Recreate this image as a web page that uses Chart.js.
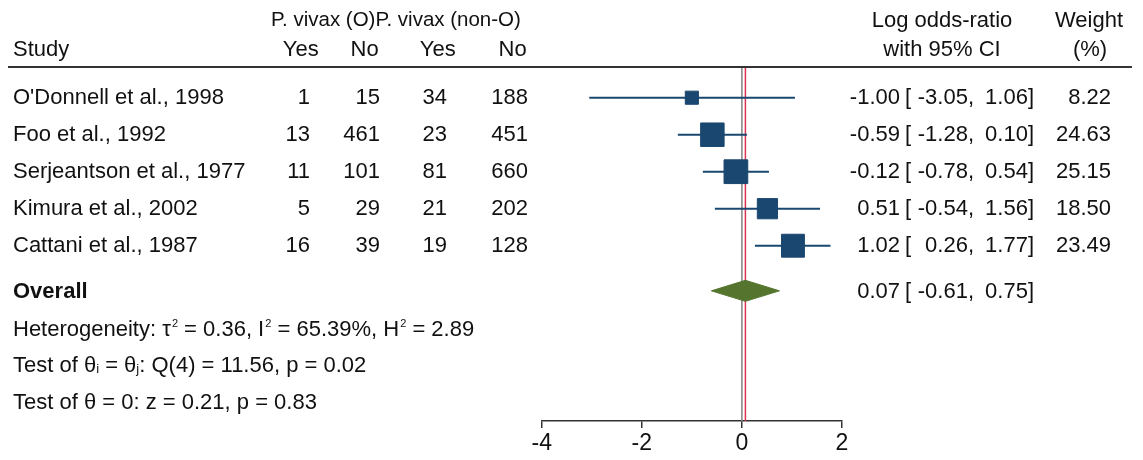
<!DOCTYPE html>
<html>
<head>
<meta charset="utf-8">
<script src="https://cdn.jsdelivr.net/npm/chart.js@4.4.1/dist/chart.umd.min.js"></script>
<style>
  html, body { margin: 0; padding: 0; background: #fff; }
  #wrap { width: 1143px; height: 460px; position: relative; }
</style>
</head>
<body>
<div id="wrap"><canvas id="forest" width="1143" height="460"></canvas></div>
<script>
// ---- study data ----
const studies = ["O'Donnell et al., 1998", "Foo et al., 1992", "Serjeantson et al., 1977", "Kimura et al., 2002", "Cattani et al., 1987"];
const vivaxOYes = [1, 13, 11, 5, 16];
const vivaxONo = [15, 461, 101, 29, 39];
const vivaxNonOYes = [34, 23, 81, 21, 19];
const vivaxNonONo = [188, 451, 660, 202, 128];
const logOR = [-1.00, -0.59, -0.12, 0.51, 1.02];
const ciLow = [-3.05, -1.28, -0.78, -0.54, 0.26];
const ciHigh = [1.06, 0.10, 0.54, 1.56, 1.77];
const weights = [8.22, 24.63, 25.15, 18.50, 23.49];
const overallEst = [0.07, -0.61, 0.75];          // estimate, lower, upper
const heterogeneity = ['0.36', '65.39%', '2.89']; // tau^2, I^2, H^2
const testQ = ['4', '11.56', '0.02'];             // df, Q, p
const testZ = ['0.21', '0.83'];                   // z, p
const xTicks = [-4, -2, 0, 2];

// ---- layout (row positions on the vertical scale) ----
const Y_MIN = 0.17, Y_MAX = 9.738;
const rowPos = [1, 2, 3, 4, 5];
const overallPos = 6.22;
const statPos = [7.22, 8.2, 9.19];
const headPos = [-1.087, -0.29];
const DIAMOND_H = 0.284;

const NAVY = '#1a476f';
const GREEN = '#55752f';
const FS = 22;
const FONT = '"Liberation Sans", Arial, Helvetica, sans-serif';

const datasets = [];
// reference lines: no effect and overall effect
datasets.push({ type: 'line', data: [{ x: 0, y: Y_MIN }, { x: 0, y: Y_MAX }],
  borderColor: '#808080', borderWidth: 1.5, pointRadius: 0, order: 10 });
datasets.push({ type: 'line', data: [{ x: overallEst[0], y: Y_MIN }, { x: overallEst[0], y: Y_MAX }],
  borderColor: '#dc3350', borderWidth: 1.5, pointRadius: 0, order: 9 });
// confidence intervals
studies.forEach((s, i) => {
  datasets.push({ type: 'line', data: [{ x: ciLow[i], y: rowPos[i] }, { x: ciHigh[i], y: rowPos[i] }],
    borderColor: NAVY, borderWidth: 2, pointRadius: 0, order: 2 });
});
// study estimates, square area proportional to weight
const sqRadius = weights.map(w => (4.93 * Math.sqrt(w) - 1) / Math.SQRT2);
datasets.push({ type: 'scatter', data: logOR.map((v, i) => ({ x: v, y: rowPos[i] })),
  pointStyle: 'rect', pointRadius: sqRadius, pointHoverRadius: sqRadius,
  backgroundColor: NAVY, borderColor: NAVY, borderWidth: 1, order: 0 });
// overall diamond
datasets.push({ type: 'line',
  data: [
    { x: overallEst[1], y: overallPos },
    { x: overallEst[0], y: overallPos - DIAMOND_H },
    { x: overallEst[2], y: overallPos },
    { x: overallEst[0], y: overallPos + DIAMOND_H },
    { x: overallEst[1], y: overallPos }
  ],
  fill: 'shape', backgroundColor: GREEN, borderColor: GREEN, borderWidth: 1,
  pointRadius: 0, tension: 0, order: 0 });

const f2 = v => v.toFixed(2);

function drawRuns(ctx, x, yc, parts) {
  const base = yc + 0.358 * FS;
  let cx = x;
  ctx.textAlign = 'left';
  ctx.textBaseline = 'alphabetic';
  parts.forEach(p => {
    if (p.sup) {
      ctx.font = `11px ${FONT}`;
      cx += 1;
      ctx.fillText(p.sup, cx, base - 9);
      cx += ctx.measureText(p.sup).width;
    } else if (p.sub) {
      ctx.font = `13px ${FONT}`;
      ctx.fillText(p.sub, cx, base + 1);
      cx += ctx.measureText(p.sub).width;
    } else {
      ctx.font = `${FS}px ${FONT}`;
      ctx.fillText(p.t, cx, base);
      cx += ctx.measureText(p.t).width;
    }
  });
}

const tablePlugin = {
  id: 'forestTable',
  afterDraw(chart) {
    const ctx = chart.ctx;
    const y = chart.scales.y;
    ctx.save();
    ctx.fillStyle = '#111';
    const put = (s, x, yc, align, bold, size) => {
      ctx.font = `${bold ? 'bold ' : ''}${size || FS}px ${FONT}`;
      ctx.textAlign = align;
      ctx.textBaseline = 'middle';
      ctx.fillText(s, x, yc);
    };
    const h1 = y.getPixelForValue(headPos[0]);
    const h2 = y.getPixelForValue(headPos[1]);

    // count columns: right-aligned values, header centred over the widest value
    const cols = [
      { vals: vivaxOYes, right: 310, head: 'Yes' },
      { vals: vivaxONo, right: 380, head: 'No' },
      { vals: vivaxNonOYes, right: 447, head: 'Yes' },
      { vals: vivaxNonONo, right: 528, head: 'No' }
    ];
    ctx.font = `${FS}px ${FONT}`;
    cols.forEach(c => {
      const w = Math.max(...c.vals.map(v => ctx.measureText(String(v)).width));
      put(c.head, c.right - w / 2 + 3, h2, 'center');
      c.vals.forEach((v, i) => put(String(v), c.right, y.getPixelForValue(rowPos[i]), 'right'));
    });

    // headers
    const GS = 20.5;
    ctx.font = `${GS}px ${FONT}`;
    const gw = ctx.measureText('P. vivax (O)').width;
    put('P. vivax (O)', 271, h1, 'left', false, GS);
    put('P. vivax (non-O)', 271 + gw, h1, 'left', false, GS);
    put('Study', 13, h2, 'left');
    put('Log odds-ratio', 942, h1, 'center');
    put('with 95% CI', 942, h2, 'center');
    put('Weight', 1089, h1, 'center');
    put('(%)', 1090, h2, 'center');
    // header rule
    const ry = y.getPixelForValue(Y_MIN);
    ctx.strokeStyle = '#333';
    ctx.lineWidth = 2;
    ctx.beginPath();
    ctx.moveTo(8, ry);
    ctx.lineTo(1132, ry);
    ctx.stroke();

    const ciText = (est, lo, hi, yc) => {
      put(f2(est), 900, yc, 'right');
      put('[', 905, yc, 'left');
      put(f2(lo) + ',', 974, yc, 'right');
      put(f2(hi) + ']', 1034, yc, 'right');
    };
    // study rows
    studies.forEach((s, i) => {
      const yc = y.getPixelForValue(rowPos[i]);
      put(s, 13, yc, 'left');
      ciText(logOR[i], ciLow[i], ciHigh[i], yc);
      put(f2(weights[i]), 1111, yc, 'right');
    });
    // overall
    const yo = y.getPixelForValue(overallPos) + 1;
    put('Overall', 13, yo, 'left', true);
    ciText(overallEst[0], overallEst[1], overallEst[2], yo);
    // statistics
    drawRuns(ctx, 13, y.getPixelForValue(statPos[0]), [
      { t: 'Heterogeneity: \u03C4' }, { sup: '2' }, { t: ' = ' + heterogeneity[0] + ', I' }, { sup: '2' },
      { t: ' = ' + heterogeneity[1] + ', H' }, { sup: '2' }, { t: ' = ' + heterogeneity[2] }
    ]);
    drawRuns(ctx, 13, y.getPixelForValue(statPos[1]), [
      { t: 'Test of \u03B8' }, { sub: 'i' }, { t: ' = \u03B8' }, { sub: 'j' },
      { t: ': Q(' + testQ[0] + ') = ' + testQ[1] + ', p = ' + testQ[2] }
    ]);
    drawRuns(ctx, 13, y.getPixelForValue(statPos[2]), [
      { t: 'Test of \u03B8 = 0: z = ' + testZ[0] + ', p = ' + testZ[1] }
    ]);
    ctx.restore();
  }
};

new Chart(document.getElementById('forest'), {
  type: 'scatter',
  data: { datasets },
  options: {
    responsive: false,
    animation: false,
    devicePixelRatio: 1,
    layout: { padding: { left: 541.7, right: 301, top: 67, bottom: 0 } },
    plugins: { legend: { display: false }, tooltip: { enabled: false } },
    scales: {
      x: {
        type: 'linear', position: 'bottom', min: -4, max: 2,
        afterBuildTicks: s => { s.ticks = xTicks.map(v => ({ value: v })); },
        afterFit: s => { s.height = 39; },
        grid: { drawOnChartArea: false, drawTicks: true, tickLength: 7, color: '#333', lineWidth: 1.5 },
        border: { display: true, color: '#333', width: 1.5 },
        ticks: { color: '#111', padding: 2, font: { family: FONT, size: 23 } }
      },
      y: { type: 'linear', reverse: true, min: Y_MIN, max: Y_MAX, display: false }
    }
  },
  plugins: [tablePlugin]
});
</script>
</body>
</html>
